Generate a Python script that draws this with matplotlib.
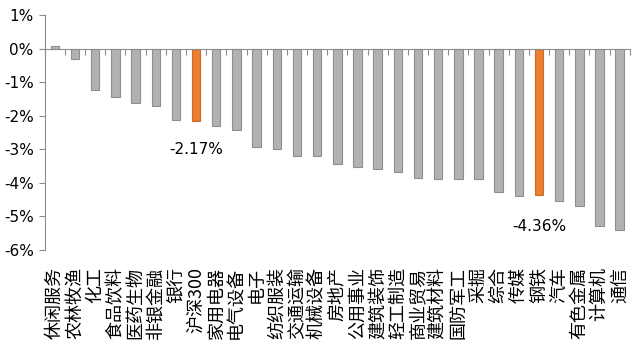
import matplotlib
matplotlib.use("Agg")
import matplotlib.pyplot as plt
import numpy as np

plt.rcParams["font.family"] = ["Noto Sans CJK SC", "DejaVu Sans"]

sectors = ["休闲服务", "农林牧渔", "化工", "食品饮料", "医药生物", "非银金融", "银行",
           "沪深300", "家用电器", "电气设备", "电子", "纺织服装", "交通运输", "机械设备",
           "房地产", "公用事业", "建筑装饰", "轻工制造", "商业贸易", "建筑材料",
           "国防军工", "采掘", "综合", "传媒", "钢铁", "汽车", "有色金属", "计算机", "通信"]
returns = [0.07, -0.32, -1.23, -1.44, -1.61, -1.72, -2.14,
           -2.17, -2.31, -2.42, -2.94, -3.00, -3.20, -3.21,
           -3.43, -3.52, -3.59, -3.69, -3.85, -3.89,
           -3.90, -3.90, -4.28, -4.38, -4.36, -4.54, -4.70, -5.29, -5.40]
highlight = {"沪深300": "-2.17%", "钢铁": "-4.36%"}
label_y = {"沪深300": -3.0, "钢铁": -5.3}

x = np.arange(len(sectors))
colors = ["#ed7d31" if s in highlight else "#b2b2b2" for s in sectors]
edges = ["#c86a2a" if s in highlight else "#8e8e8e" for s in sectors]

fig = plt.figure(figsize=(6.4, 3.56), dpi=100)
ax = fig.add_axes([0.070, 0.298, 0.914, 0.660])
ax.bar(x, returns, width=0.42, color=colors, edgecolor=edges, linewidth=0.8, zorder=2)

ax.set_xlim(-0.5, len(sectors) - 0.5)
ax.set_ylim(-6, 1)
ax.set_yticks(np.arange(-6, 2, 1))
ax.set_yticklabels([f"{v}%" for v in range(-6, 2)], family="Liberation Sans Narrow",
                   fontsize=11)

for s in ("top", "right"):
    ax.spines[s].set_visible(False)
ax.spines["left"].set_color("#8c8c8c")
ax.spines["bottom"].set_color("#8c8c8c")
ax.spines["bottom"].set_position(("data", 0))
ax.tick_params(axis="y", length=4, color="#8c8c8c", pad=4)

# category boundaries as ticks on the zero line
ax.set_xticks(np.arange(-0.5, len(sectors), 1))
ax.set_xticklabels([])
ax.tick_params(axis="x", length=4, color="#8c8c8c", direction="out")

sec = ax.secondary_xaxis(0)
sec.set_xticks(x)
sec.set_xticklabels(sectors, rotation=90, fontsize=13, va="top", ha="center")
sec.tick_params(length=0, pad=12)
sec.spines["bottom"].set_visible(False)

for s, txt in highlight.items():
    i = sectors.index(s)
    ax.text(i, label_y[s], txt, ha="center", va="center", fontsize=11,
            family="Liberation Sans Narrow")

fig.savefig("out.png", dpi=100)
